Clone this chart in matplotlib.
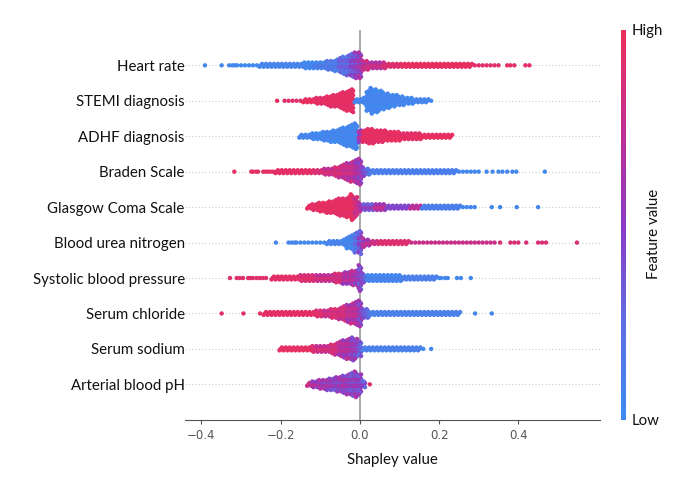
import numpy as np
import matplotlib
matplotlib.use('Agg')
import matplotlib.pyplot as plt
from matplotlib.colors import LinearSegmentedColormap
from matplotlib.cm import ScalarMappable

# features, top to bottom
features = ['Heart rate', 'STEMI diagnosis', 'ADHF diagnosis', 'Braden Scale',
            'Glasgow Coma Scale', 'Blood urea nitrogen', 'Systolic blood pressure',
            'Serum chloride', 'Serum sodium', 'Arterial blood pH']

# each feature: first bin (shap value), points per 0.01 bin, mean feature value per bin (0=low, 1=high)
# plus isolated points in the tails
hr_x0 = -0.31
hr_n = [1]*6 + [3]*11 + [5]*6 + [7, 7, 9, 11, 13, 15, 17, 19, 19] + [7, 7, 5, 5, 5, 5] + [3]*22 + [1]*7
hr_c = [0.05]*20 + [0.12]*6 + [0.25]*3 + [0.4, 0.45, 0.55, 0.68] + [0.75]*4 + [0.85]*5 + [0.95]*25
hr_dots = [-0.391, -0.349, -0.33, -0.322, -0.316, 0.372, 0.38, 0.39, 0.418, 0.428]
hr_dots_c = [0.05]*5 + [0.95]*5

stemi_x0 = -0.19
stemi_n = [1]*5 + [3]*3 + [5]*3 + [7, 9, 9, 11, 13, 15, 17] + [3, 3, 5] + \
          [15, 19, 17, 15, 13, 11, 9, 9, 7, 7, 5, 5, 3, 3, 3, 3, 1]
stemi_c = [0.95]*18 + [0.05]*20
stemi_dots = [-0.209]
stemi_dots_c = [0.95]

adhf_x0 = -0.15
adhf_n = [3]*3 + [5]*3 + [7, 7] + [9, 9, 11, 13, 15, 17, 19] + \
         [9, 9, 11, 11, 9, 9, 9, 7, 7, 7, 7] + [5]*5 + [3]*8
adhf_c = [0.05]*15 + [0.6] + [0.95]*23
adhf_dots = []
adhf_dots_c = []

braden_x0 = -0.21
braden_n = [3]*12 + [5]*3 + [7, 9, 11, 13, 15, 17, 19] + [7, 5] + [3]*13 + [3]*9 + [1]*6
braden_c = [0.9]*10 + [0.82]*7 + [0.75]*3 + [0.65, 0.55, 0.35, 0.25] + [0.08]*28
braden_dots = [-0.317, -0.274, -0.27, -0.262, -0.257, -0.244, -0.238, -0.232, -0.226, -0.219,
               0.32, 0.335, 0.35, 0.36, 0.372, 0.385, 0.395, 0.467]
braden_dots_c = [0.95]*10 + [0.05]*8

gcs_x0 = -0.13
gcs_n = [3, 5, 5, 7, 7, 9, 9, 11, 13, 13, 15, 19, 15, 7] + [5]*6 + [3]*9 + [3]*10 + [1]*4
gcs_c = [0.95]*12 + [0.8, 0.6] + [0.45]*3 + [0.7]*3 + [0.35]*6 + [0.6]*3 + [0.08]*14
gcs_dots = [0.333, 0.354, 0.396, 0.45]
gcs_dots_c = [0.05]*4

bun_x0 = -0.16
bun_n = [1]*8 + [3]*3 + [3, 5, 9, 11, 15, 17] + [7, 5, 3, 3] + [3]*8 + [1]*22
bun_c = [0.06]*15 + [0.2, 0.4, 0.6] + [0.7]*3 + [0.85]*30
bun_dots = [-0.212, -0.18, -0.172, -0.165, 0.354, 0.38, 0.39, 0.40, 0.42, 0.45, 0.46, 0.47, 0.548]
bun_dots_c = [0.06]*4 + [0.88]*9

sbp_x0 = -0.22
sbp_n = [3]*7 + [5]*9 + [7, 7, 9, 9, 11, 11, 19] + [7] + [5]*9 + [3]*9
sbp_c = [0.9]*11 + [0.8]*7 + [0.65]*3 + [0.55, 0.45, 0.3] + [0.07]*18
sbp_dots = [-0.328, -0.311, -0.303, -0.295, -0.282, -0.276, -0.27, -0.261, -0.253, -0.245, -0.237,
            0.20, 0.205, 0.215, 0.222, 0.245, 0.255, 0.28]
sbp_dots_c = [0.92]*11 + [0.05]*7

cl_x0 = -0.24
cl_n = [3]*13 + [5]*4 + [7, 7, 9, 11, 13, 15, 17, 19] + [7, 7] + [3]*23
cl_c = [0.92]*15 + [0.82]*6 + [0.7]*3 + [0.5, 0.3, 0.2] + [0.07]*23
cl_dots = [-0.349, -0.294, -0.252, 0.291, 0.333]
cl_dots_c = [0.95]*3 + [0.05]*2

na_x0 = -0.20
na_n = [3]*8 + [5]*5 + [7, 9, 11, 13, 15, 17, 15, 11] + [3]*15
na_c = [0.93]*9 + [0.82]*6 + [0.65]*3 + [0.55, 0.5, 0.3] + [0.07]*15
na_dots = [0.16, 0.18]
na_dots_c = [0.05]*2

ph_x0 = -0.13
ph_n = [3, 5, 5, 7, 7, 9, 9, 11, 11, 13, 15, 17, 19, 15, 5]
ph_c = [0.7, 0.65, 0.6, 0.55, 0.5, 0.55, 0.5, 0.45, 0.5, 0.55, 0.5, 0.45, 0.5, 0.45, 0.4]
ph_dots = [0.025]
ph_dots_c = [0.9]

rows = [(hr_x0, hr_n, hr_c, hr_dots, hr_dots_c),
        (stemi_x0, stemi_n, stemi_c, stemi_dots, stemi_dots_c),
        (adhf_x0, adhf_n, adhf_c, adhf_dots, adhf_dots_c),
        (braden_x0, braden_n, braden_c, braden_dots, braden_dots_c),
        (gcs_x0, gcs_n, gcs_c, gcs_dots, gcs_dots_c),
        (bun_x0, bun_n, bun_c, bun_dots, bun_dots_c),
        (sbp_x0, sbp_n, sbp_c, sbp_dots, sbp_dots_c),
        (cl_x0, cl_n, cl_c, cl_dots, cl_dots_c),
        (na_x0, na_n, na_c, na_dots, na_dots_c),
        (ph_x0, ph_n, ph_c, ph_dots, ph_dots_c)]

cmap = LinearSegmentedColormap.from_list(
    'shap', ['#3d8df0', '#5f6de2', '#8c3ac6', '#c22f92', '#ec2f5a'])

label_font = ['Lato', 'DejaVu Sans']

fig = plt.figure(figsize=(7, 4.98), dpi=100)
ax = fig.add_axes([0.264, 0.157, 0.593, 0.783])

nf = len(features)
step = 0.04  # vertical gap between stacked points, in row units
shift = [0.0, 0.003, -0.003]  # spread points a little inside their bin

px, py, pc = [], [], []
for i, (x0, counts, cols, dots, dots_c) in enumerate(rows):
    y = nf - 1 - i
    ax.axhline(y, color='#cccccc', lw=0.8, dashes=(1, 2), zorder=-2)
    for j, (n, c) in enumerate(zip(counts, cols)):
        x = x0 + 0.01 * j
        mix = 0.5 * c * (1 - c)
        for k in range(n):
            off = ((k + 1) // 2) * (1 if k % 2 == 1 else -1) * step
            sgn = 1 if k % 4 in (1, 2) else -1
            px.append(x + (shift[k % 3] if n > 1 else 0))
            py.append(y + off)
            pc.append(min(1, max(0, c + sgn * mix)))
    for x, c in zip(dots, dots_c):
        px.append(x)
        py.append(y)
        pc.append(c)

ax.axvline(0, color='#999999', lw=1.2, zorder=-1)
ax.scatter(px, py, c=pc, cmap=cmap, vmin=0, vmax=1, s=10, linewidths=0, zorder=3)

ax.set_xlim(-0.442, 0.606)
ax.set_ylim(-1, nf)
ax.set_yticks(range(nf))
ax.set_yticklabels(features[::-1], family=label_font, fontsize=10.8, color='#111111')
ax.tick_params(axis='y', length=0, pad=0)
ax.set_xticks([-0.4, -0.2, 0.0, 0.2, 0.4])
ax.tick_params(axis='x', labelsize=8.5, labelcolor='#555555', color='#555555', length=3)
for s in ['top', 'right', 'left']:
    ax.spines[s].set_visible(False)
ax.spines['bottom'].set_color('#555555')
ax.set_xlabel('Shapley value', family=label_font, fontsize=10.8, color='#111111', labelpad=8)

# colour bar
cax = fig.add_axes([0.887, 0.157, 0.007, 0.783])
cb = fig.colorbar(ScalarMappable(cmap=cmap), cax=cax, ticks=[0, 1])
cb.outline.set_visible(False)
cb.ax.set_yticklabels(['Low', 'High'], family=label_font, fontsize=10.8, color='#111111')
cb.ax.tick_params(length=0, pad=4)
fig.text(0.934, 0.531, 'Feature value', rotation=90, ha='center', va='center',
         family=label_font, fontsize=10.8, color='#111111')

fig.savefig('out.png', dpi=100)
